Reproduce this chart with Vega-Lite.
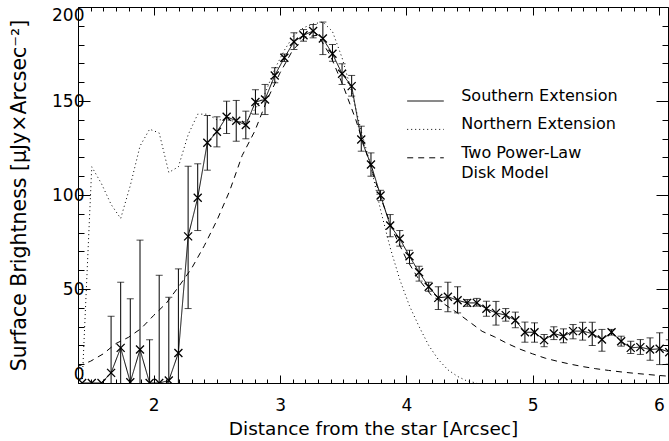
{
  "$schema": "https://vega.github.io/schema/vega-lite/v6.json",
  "width": 590,
  "height": 376,
  "autosize": {"type": "none"},
  "padding": {"left": 78, "top": 7, "right": 1, "bottom": 58},
  "background": "white",
  "config": {
    "font": "DejaVu Sans",
    "view": {"stroke": "black", "strokeWidth": 1},
    "mark": {"color": "black"},
    "axis": {
      "domain": false, "grid": false, "tickColor": "black", "tickWidth": 1,
      "labelColor": "black", "titleColor": "black",
      "labelFont": "DejaVu Sans", "titleFont": "DejaVu Sans",
      "labelFontSize": 17, "titleFontSize": 18.5, "titleFontWeight": "normal",
      "labelOverlap": false
    },
    "legend": {
      "orient": "none", "legendX": 328.5, "legendY": 75, "title": null,
      "symbolType": "stroke", "symbolSize": 1340, "symbolStrokeWidth": 1,
      "symbolStrokeColor": "black", "labelFontSize": 16, "labelFont": "DejaVu Sans",
      "labelColor": "black", "labelBaseline": "alphabetic", "labelOffset": 16.7,
      "rowPadding": 6.4, "padding": 0, "labelLimit": 300
    },
    "style": {"guide-label": {"lineHeight": 20}}
  },
  "datasets": {
    "southern": [
      {"x": 1.433, "y": 0, "lo": null, "hi": null},
      {"x": 1.509, "y": 0, "lo": null, "hi": null},
      {"x": 1.586, "y": 0, "lo": null, "hi": null},
      {"x": 1.662, "y": 5.4, "lo": -25, "hi": 35.5},
      {"x": 1.738, "y": 18.7, "lo": -16, "hi": 53.6},
      {"x": 1.814, "y": 0.4, "lo": -44, "hi": 44.8},
      {"x": 1.891, "y": 17.8, "lo": -40, "hi": 76},
      {"x": 1.967, "y": 0, "lo": -23, "hi": 23},
      {"x": 2.043, "y": 0, "lo": -57, "hi": 57.3},
      {"x": 2.119, "y": 1.3, "lo": -43, "hi": 45.6},
      {"x": 2.195, "y": 16, "lo": -29, "hi": 60.7},
      {"x": 2.272, "y": 78, "lo": 39.6, "hi": 115.3},
      {"x": 2.348, "y": 98.5, "lo": 81.1, "hi": 116.6},
      {"x": 2.424, "y": 127.8, "lo": 113.2, "hi": 142.3},
      {"x": 2.5, "y": 133.6, "lo": 125.6, "hi": 141.6},
      {"x": 2.577, "y": 141.6, "lo": 132.7, "hi": 149.9},
      {"x": 2.653, "y": 139.5, "lo": 128.6, "hi": 150.3},
      {"x": 2.729, "y": 137.2, "lo": 129.9, "hi": 144.6},
      {"x": 2.805, "y": 149.5, "lo": 143, "hi": 156},
      {"x": 2.881, "y": 150.8, "lo": 142.8, "hi": 158.8},
      {"x": 2.958, "y": 163.6, "lo": 159.7, "hi": 167.7},
      {"x": 3.034, "y": 173, "lo": 171, "hi": 175},
      {"x": 3.11, "y": 181.5, "lo": 177.4, "hi": 186.3},
      {"x": 3.186, "y": 185, "lo": 181.8, "hi": 188},
      {"x": 3.262, "y": 187.2, "lo": 183.6, "hi": 190.7},
      {"x": 3.339, "y": 183.2, "lo": 174.7, "hi": 192},
      {"x": 3.415, "y": 175.1, "lo": 171.2, "hi": 180},
      {"x": 3.491, "y": 164.5, "lo": 158.8, "hi": 169.8},
      {"x": 3.567, "y": 157.9, "lo": 152.6, "hi": 163.6},
      {"x": 3.643, "y": 129.5, "lo": 123.3, "hi": 136.6},
      {"x": 3.72, "y": 116.2, "lo": 110, "hi": 122.4},
      {"x": 3.796, "y": 99.7, "lo": 97, "hi": 102.5},
      {"x": 3.872, "y": 83.8, "lo": 77.8, "hi": 89.6},
      {"x": 3.948, "y": 76.7, "lo": 72.8, "hi": 81.1},
      {"x": 4.025, "y": 67.4, "lo": 63.6, "hi": 70.6},
      {"x": 4.101, "y": 58.9, "lo": 54.2, "hi": 62.1},
      {"x": 4.177, "y": 51.2, "lo": 48.8, "hi": 53.6},
      {"x": 4.253, "y": 45.3, "lo": 39.1, "hi": 51.2},
      {"x": 4.329, "y": 45.9, "lo": 37.9, "hi": 53.6},
      {"x": 4.406, "y": 44, "lo": 37.3, "hi": 51.2},
      {"x": 4.482, "y": 42.6, "lo": 40.8, "hi": 44.4},
      {"x": 4.558, "y": 42.6, "lo": 40.9, "hi": 45},
      {"x": 4.634, "y": 39.5, "lo": 35.5, "hi": 43.5},
      {"x": 4.71, "y": 37.3, "lo": 30.8, "hi": 43.4},
      {"x": 4.787, "y": 36.1, "lo": 32.9, "hi": 39.6},
      {"x": 4.863, "y": 33.4, "lo": 29.4, "hi": 37.7},
      {"x": 4.939, "y": 27, "lo": 21.7, "hi": 32.4},
      {"x": 5.015, "y": 27, "lo": 21.7, "hi": 32},
      {"x": 5.091, "y": 22.8, "lo": 19.3, "hi": 25.8},
      {"x": 5.168, "y": 26.3, "lo": 23.1, "hi": 29.9},
      {"x": 5.244, "y": 24.9, "lo": 21.4, "hi": 28.8},
      {"x": 5.32, "y": 27.6, "lo": 23.5, "hi": 31.1},
      {"x": 5.396, "y": 27.6, "lo": 22.8, "hi": 32.3},
      {"x": 5.472, "y": 26.3, "lo": 19.9, "hi": 32.3},
      {"x": 5.549, "y": 23.1, "lo": 16.9, "hi": 28.5},
      {"x": 5.625, "y": 27, "lo": 25.5, "hi": 28.5},
      {"x": 5.701, "y": 22.2, "lo": 19.6, "hi": 24.9},
      {"x": 5.777, "y": 18.7, "lo": 15.7, "hi": 22.2},
      {"x": 5.853, "y": 19.1, "lo": 15.2, "hi": 23.1},
      {"x": 5.93, "y": 17.8, "lo": 12.1, "hi": 24},
      {"x": 6.006, "y": 18.2, "lo": 9.8, "hi": 26.7},
      {"x": 6.082, "y": 16.4, "lo": 10, "hi": 23}
    ],
    "northern": [
      {"x": 1.433, "y": 0}, {"x": 1.509, "y": 115}, {"x": 1.586, "y": 106},
      {"x": 1.662, "y": 95}, {"x": 1.738, "y": 87.5}, {"x": 1.814, "y": 105},
      {"x": 1.891, "y": 126}, {"x": 1.967, "y": 135}, {"x": 2.043, "y": 133},
      {"x": 2.119, "y": 112}, {"x": 2.195, "y": 115}, {"x": 2.272, "y": 132},
      {"x": 2.348, "y": 143}, {"x": 2.424, "y": 143}, {"x": 2.5, "y": 140},
      {"x": 2.577, "y": 140}, {"x": 2.653, "y": 139}, {"x": 2.729, "y": 139},
      {"x": 2.805, "y": 146}, {"x": 2.881, "y": 154}, {"x": 2.958, "y": 167},
      {"x": 3.034, "y": 177}, {"x": 3.11, "y": 185}, {"x": 3.186, "y": 189},
      {"x": 3.262, "y": 191}, {"x": 3.339, "y": 192}, {"x": 3.415, "y": 187},
      {"x": 3.491, "y": 173}, {"x": 3.567, "y": 155}, {"x": 3.643, "y": 134},
      {"x": 3.72, "y": 115}, {"x": 3.796, "y": 92}, {"x": 3.872, "y": 72},
      {"x": 3.948, "y": 55}, {"x": 4.025, "y": 41}, {"x": 4.101, "y": 30},
      {"x": 4.177, "y": 20}, {"x": 4.253, "y": 12.5}, {"x": 4.329, "y": 7},
      {"x": 4.406, "y": 3.5}, {"x": 4.482, "y": 1}, {"x": 4.558, "y": 0}
    ],
    "model": [
      {"x": 1.4, "y": 8.9}, {"x": 1.5, "y": 11.6}, {"x": 1.6, "y": 15.5},
      {"x": 1.7, "y": 21}, {"x": 1.8, "y": 24.3}, {"x": 1.9, "y": 29},
      {"x": 2.0, "y": 36}, {"x": 2.1, "y": 42.5}, {"x": 2.2, "y": 51.5},
      {"x": 2.3, "y": 61}, {"x": 2.4, "y": 73}, {"x": 2.5, "y": 86.5},
      {"x": 2.6, "y": 102}, {"x": 2.7, "y": 121}, {"x": 2.8, "y": 134},
      {"x": 2.9, "y": 151}, {"x": 3.0, "y": 165}, {"x": 3.1, "y": 177},
      {"x": 3.2, "y": 184}, {"x": 3.3, "y": 185}, {"x": 3.4, "y": 174},
      {"x": 3.5, "y": 158}, {"x": 3.6, "y": 140}, {"x": 3.7, "y": 119},
      {"x": 3.8, "y": 98}, {"x": 3.9, "y": 80}, {"x": 4.0, "y": 66},
      {"x": 4.1, "y": 55}, {"x": 4.2, "y": 46.5}, {"x": 4.3, "y": 42},
      {"x": 4.4, "y": 37.5}, {"x": 4.5, "y": 32.5}, {"x": 4.6, "y": 27.5},
      {"x": 4.7, "y": 24.5}, {"x": 4.8, "y": 21}, {"x": 4.9, "y": 18},
      {"x": 5.0, "y": 15.5}, {"x": 5.1, "y": 13.2}, {"x": 5.2, "y": 11.5},
      {"x": 5.3, "y": 10}, {"x": 5.4, "y": 8.7}, {"x": 5.5, "y": 7.6},
      {"x": 5.6, "y": 6.7}, {"x": 5.7, "y": 5.9}, {"x": 5.8, "y": 5.2},
      {"x": 5.9, "y": 4.6}, {"x": 6.0, "y": 4}, {"x": 6.1, "y": 3.5}
    ]
  },
  "resolve": {"axis": {"x": "independent", "y": "independent"}},
  "layer": [
    {
      "data": {"name": "model"},
      "mark": {"type": "line", "strokeWidth": 1, "clip": true},
      "encoding": {
        "x": {"field": "x", "type": "quantitative",
          "scale": {"domain": [1.4, 6.072], "nice": false, "zero": false},
          "axis": {"orient": "bottom", "title": "Distance from the star [Arcsec]",
            "values": [1.4,1.5,1.6,1.7,1.8,1.9,2,2.1,2.2,2.3,2.4,2.5,2.6,2.7,2.8,2.9,3,3.1,3.2,3.3,3.4,3.5,3.6,3.7,3.8,3.9,4,4.1,4.2,4.3,4.4,4.5,4.6,4.7,4.8,4.9,5,5.1,5.2,5.3,5.4,5.5,5.6,5.7,5.8,5.9,6],
            "labelExpr": "abs(datum.value - round(datum.value)) < 0.01 ? format(datum.value, 'd') : ''",
            "tickSize": {"condition": {"test": "abs(datum.value - round(datum.value)) < 0.01", "value": -8}, "value": -4},
            "labelPadding": 22, "labelFlush": false, "titlePadding": 2}},
        "y": {"field": "y", "type": "quantitative",
          "scale": {"domain": [0, 200], "nice": false, "zero": false},
          "axis": {"orient": "left", "title": "Surface Brightness [μJy×Arcsec⁻²]",
            "titleFontSize": 20.5,
            "values": [0,10,20,30,40,50,60,70,80,90,100,110,120,130,140,150,160,170,180,190,200],
            "labelExpr": "datum.value % 50 == 0 ? format(datum.value, 'd') : ''",
            "tickSize": {"condition": {"test": "datum.value % 50 == 0", "value": -12}, "value": -6},
            "labelPadding": 6, "labelFlush": true, "titlePadding": 22}},
        "strokeDash": {"datum": "Two Power-Law Disk Model", "type": "nominal",
          "scale": {"domain": ["Southern Extension", "Northern Extension", "Two Power-Law Disk Model"],
            "range": [[1, 0], [1, 3], [6, 5]]},
          "legend": {"labelExpr": "datum.label == 'Two Power-Law Disk Model' ? ['Two Power-Law', 'Disk Model'] : datum.label"}}
      }
    },
    {
      "data": {"name": "northern"},
      "mark": {"type": "line", "strokeWidth": 1, "clip": true},
      "encoding": {
        "x": {"field": "x", "type": "quantitative",
          "axis": {"orient": "top", "title": null, "labels": false,
            "values": [1.4,1.5,1.6,1.7,1.8,1.9,2,2.1,2.2,2.3,2.4,2.5,2.6,2.7,2.8,2.9,3,3.1,3.2,3.3,3.4,3.5,3.6,3.7,3.8,3.9,4,4.1,4.2,4.3,4.4,4.5,4.6,4.7,4.8,4.9,5,5.1,5.2,5.3,5.4,5.5,5.6,5.7,5.8,5.9,6],
            "tickSize": {"condition": {"test": "abs(datum.value - round(datum.value)) < 0.01", "value": -8}, "value": -4}}},
        "y": {"field": "y", "type": "quantitative",
          "axis": {"orient": "right", "title": null, "labels": false,
            "values": [0,10,20,30,40,50,60,70,80,90,100,110,120,130,140,150,160,170,180,190,200],
            "tickSize": {"condition": {"test": "datum.value % 50 == 0", "value": -12}, "value": -6}}},
        "strokeDash": {"datum": "Northern Extension", "type": "nominal"}
      }
    },
    {
      "data": {"name": "southern"},
      "mark": {"type": "line", "strokeWidth": 1, "clip": true},
      "encoding": {
        "x": {"field": "x", "type": "quantitative", "axis": null},
        "y": {"field": "y", "type": "quantitative", "axis": null},
        "strokeDash": {"datum": "Southern Extension", "type": "nominal"}
      }
    },
    {
      "data": {"name": "southern"},
      "mark": {"type": "rule", "strokeWidth": 1, "clip": true},
      "encoding": {
        "x": {"field": "x", "type": "quantitative", "axis": null},
        "y": {"field": "lo", "type": "quantitative", "axis": null},
        "y2": {"field": "hi"}
      }
    },
    {
      "data": {"name": "southern"},
      "mark": {"type": "tick", "orient": "horizontal", "size": 7, "thickness": 1, "clip": true},
      "encoding": {
        "x": {"field": "x", "type": "quantitative", "axis": null},
        "y": {"field": "lo", "type": "quantitative", "axis": null}
      }
    },
    {
      "data": {"name": "southern"},
      "mark": {"type": "tick", "orient": "horizontal", "size": 7, "thickness": 1, "clip": true},
      "encoding": {
        "x": {"field": "x", "type": "quantitative", "axis": null},
        "y": {"field": "hi", "type": "quantitative", "axis": null}
      }
    },
    {
      "data": {"name": "southern"},
      "mark": {"type": "point", "shape": "M-1,-1L1,1M-1,1L1,-1", "filled": false, "size": 64, "strokeWidth": 1.3, "opacity": 1, "clip": true},
      "encoding": {
        "x": {"field": "x", "type": "quantitative", "axis": null},
        "y": {"field": "y", "type": "quantitative", "axis": null}
      }
    }
  ]
}
